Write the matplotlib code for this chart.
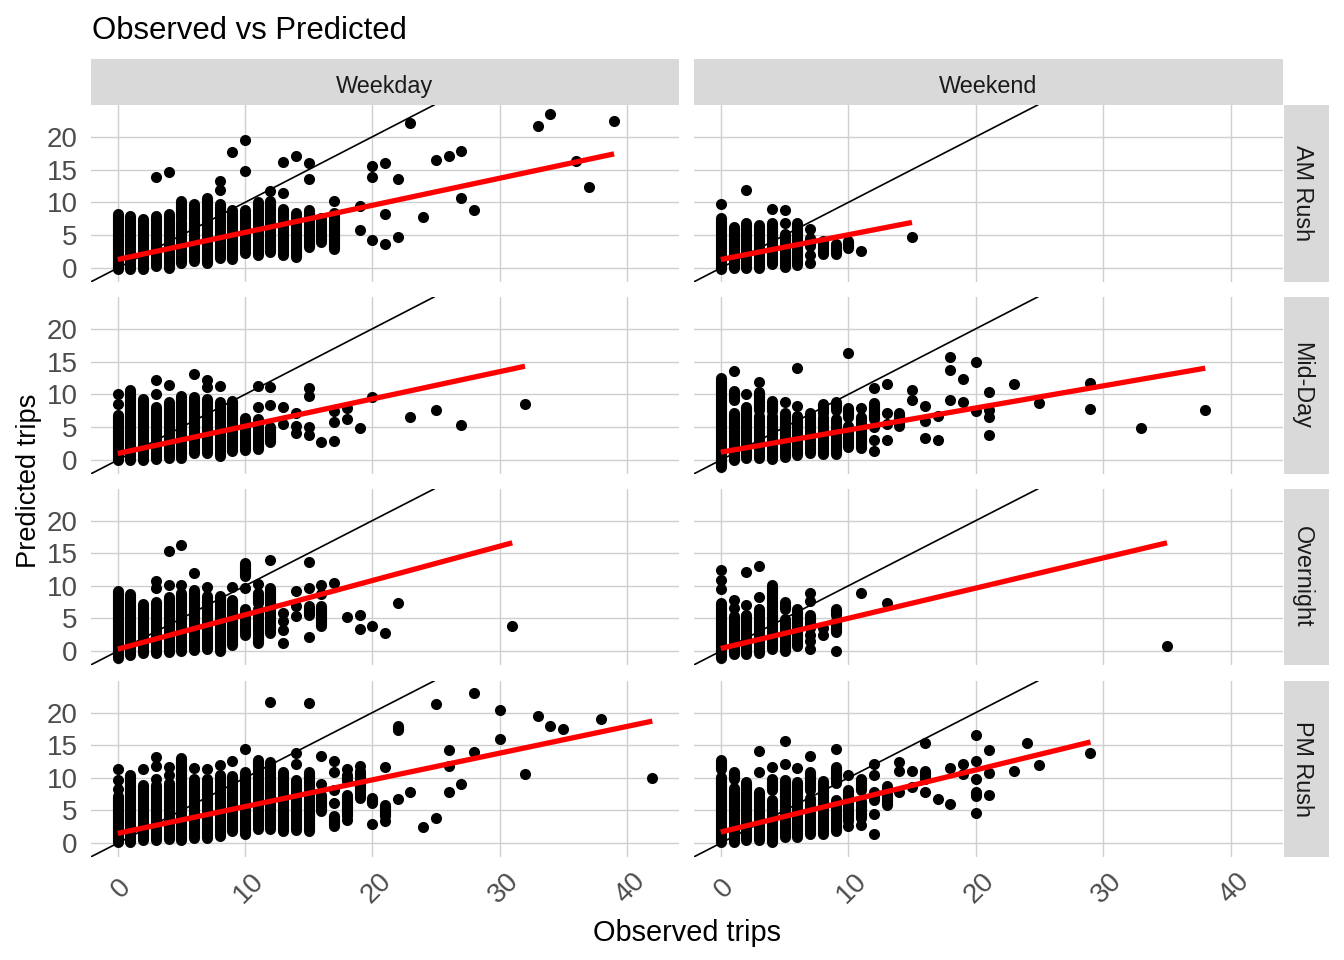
import matplotlib
matplotlib.use('Agg')
import matplotlib.pyplot as plt
from matplotlib.transforms import ScaledTranslation

plt.rcParams['font.family'] = ['Liberation Sans', 'DejaVu Sans']

col_labels = ['Weekday', 'Weekend']
row_labels = ['AM Rush', 'Mid-Day', 'Overnight', 'PM Rush']
x_ticks = [0, 10, 20, 30, 40]
y_ticks = [0, 5, 10, 15, 20]

# Weekday / AM Rush
wd_am_seg_x = [0, 1, 2, 3, 4, 5, 5, 6, 7, 8, 9, 10, 11, 12, 13, 13, 14, 15, 16, 17]
wd_am_seg_lo = [-0.1, -0.1, -0.1, 0.3, 0.05, 0.8, 7.5, 1.0, 0.8, 1.5, 1.4, 2.3, 2.0, 2.5, 2.0, 7.0, 1.7, 3.2, 4.0, 2.9]
wd_am_seg_hi = [8.2, 8.0, 7.5, 8.0, 8.2, 7.0, 10.2, 9.7, 10.6, 9.7, 8.8, 8.9, 10.0, 10.2, 6.6, 9.0, 8.4, 8.9, 7.7, 8.4]
wd_am_pt_x = [3, 4, 8, 8, 9, 10, 10, 12, 13, 13, 14, 15, 15, 17, 19, 19, 20, 20, 20, 21, 21, 21, 22, 22, 23, 24, 25, 26, 27, 27, 28, 33, 34, 36, 37, 39]
wd_am_pt_y = [13.8, 14.7, 13.2, 11.9, 17.7, 14.8, 19.5, 11.8, 11.4, 16.1, 17.0, 16.0, 13.5, 10.2, 9.5, 5.8, 15.6, 13.9, 4.2, 16.0, 8.2, 3.7, 13.5, 4.7, 22.1, 7.8, 16.5, 17.0, 17.9, 10.6, 8.9, 21.6, 23.5, 16.3, 12.4, 22.4]
wd_am_fit_x = [0, 39]
wd_am_fit_y = [1.3, 17.4]

# Weekend / AM Rush
we_am_seg_x = [0, 1, 2, 3, 4, 5, 6, 7, 8, 9, 10]
we_am_seg_lo = [-0.1, 0.05, 0.05, 0.05, 0.55, 0.2, 0.4, 3.3, 2.2, 2.1, 3.1]
we_am_seg_hi = [7.6, 6.3, 6.9, 6.6, 6.9, 5.2, 6.9, 4.6, 4.1, 3.6, 4.1]
we_am_pt_x = [0, 2, 4, 5, 5, 7, 7, 7, 11, 15]
we_am_pt_y = [9.8, 11.9, 9.0, 8.9, 6.9, 5.9, 2.0, 0.7, 2.6, 4.7]
we_am_fit_x = [0, 15]
we_am_fit_y = [1.3, 6.95]

# Weekday / Mid-Day
wd_md_seg_x = [0, 1, 2, 3, 4, 5, 6, 7, 8, 9, 10, 11, 12]
wd_md_seg_lo = [0.0, 0.0, 0.0, 0.2, 0.35, 0.35, 1.0, 1.0, 0.6, 1.4, 1.5, 1.7, 2.8]
wd_md_seg_hi = [6.9, 10.7, 9.3, 8.1, 8.9, 9.8, 9.6, 9.3, 8.9, 9.0, 6.4, 6.3, 5.1]
wd_md_pt_x = [0, 0, 3, 3, 4, 6, 7, 7, 8, 11, 11, 12, 12, 13, 13, 14, 14, 14, 15, 15, 15, 15, 16, 17, 17, 17, 18, 18, 19, 20, 23, 25, 27, 32]
wd_md_pt_y = [10.0, 8.5, 12.2, 10.0, 11.4, 13.1, 12.2, 11.1, 11.3, 11.3, 8.1, 11.1, 8.4, 8.1, 5.5, 7.1, 5.2, 4.1, 11.0, 9.8, 5.0, 3.8, 2.8, 7.4, 5.8, 2.9, 8.0, 6.3, 4.9, 9.6, 6.5, 7.7, 5.4, 8.6]
wd_md_fit_x = [0, 32]
wd_md_fit_y = [1.0, 14.3]

# Weekend / Mid-Day
we_md_seg_x = [0, 1, 1, 2, 3, 3, 4, 4, 5, 6, 7, 8, 8, 9, 9, 10, 10, 11, 12, 14]
we_md_seg_lo = [-1.0, 0.0, 9.2, 0.25, 0.25, 7.7, 0.1, 7.5, 0.5, 0.7, 1.0, 0.9, 7.1, 0.9, 7.7, 2.0, 6.6, 1.9, 6.2, 5.2]
we_md_seg_hi = [12.5, 7.2, 10.5, 8.1, 6.7, 10.3, 6.7, 9.0, 7.1, 6.7, 7.1, 6.6, 8.5, 6.3, 8.8, 5.2, 8.0, 6.5, 8.7, 7.2]
we_md_pt_x = [1, 2, 3, 5, 6, 6, 10, 11, 12, 12, 12, 12, 13, 13, 13, 13, 15, 15, 16, 16, 16, 17, 17, 18, 18, 18, 19, 19, 20, 20, 21, 21, 21, 21, 23, 25, 29, 29, 33, 38]
we_md_pt_y = [13.5, 10.1, 11.9, 8.8, 14.1, 8.2, 16.3, 8.0, 11.0, 5.0, 3.1, 1.4, 11.6, 7.1, 5.5, 3.1, 10.6, 9.2, 8.2, 6.0, 3.4, 6.7, 3.1, 15.7, 13.7, 9.1, 12.4, 8.8, 15.0, 7.5, 10.4, 7.7, 6.5, 3.8, 11.6, 8.7, 11.8, 7.8, 4.9, 7.7]
we_md_fit_x = [0, 38]
we_md_fit_y = [1.2, 14.0]

# Weekday / Overnight
wd_on_seg_x = [0, 1, 2, 3, 4, 5, 6, 7, 8, 9, 10, 10, 11, 11, 12, 12, 15, 16]
wd_on_seg_lo = [-1.0, -0.55, -0.25, -0.25, -0.15, 0.05, 0.2, 0.35, 0.05, 1.0, 2.5, 11.5, 1.3, 7.3, 5.6, 2.7, 5.6, 3.9]
wd_on_seg_hi = [9.2, 8.8, 7.2, 7.5, 8.3, 8.9, 9.4, 8.4, 8.4, 7.9, 6.5, 13.5, 6.5, 8.9, 9.6, 5.4, 6.9, 6.9]
wd_on_pt_x = [3, 3, 4, 4, 5, 5, 6, 7, 9, 10, 11, 12, 13, 13, 13, 13, 14, 14, 14, 15, 15, 15, 16, 16, 17, 18, 19, 19, 20, 21, 22, 31]
wd_on_pt_y = [10.7, 9.6, 15.3, 10.1, 16.3, 10.2, 12.0, 9.9, 9.8, 9.6, 10.3, 13.9, 5.9, 4.6, 3.3, 1.3, 9.2, 6.9, 5.4, 13.6, 9.7, 2.1, 10.2, 8.8, 10.5, 5.2, 5.5, 3.4, 3.9, 2.8, 7.4, 3.9]
wd_on_fit_x = [0, 31]
wd_on_fit_y = [0.3, 16.6]

# Weekend / Overnight
we_on_seg_x = [0, 1, 2, 3, 4, 5, 5, 6, 7, 9, 9]
we_on_seg_lo = [-1.0, -0.45, -0.4, -0.25, 0.25, 0.05, 6.4, 0.8, 3.5, 5.6, 3.0]
we_on_seg_hi = [7.3, 5.4, 5.6, 6.4, 10.2, 4.9, 7.6, 6.4, 5.6, 6.4, 4.6]
we_on_pt_x = [0, 0, 0, 1, 1, 2, 2, 3, 3, 7, 7, 7, 7, 7, 8, 8, 9, 11, 13, 35]
we_on_pt_y = [12.5, 10.9, 9.5, 7.9, 6.6, 12.1, 7.1, 13.0, 8.3, 8.9, 7.7, 2.5, 1.5, 0.3, 3.6, 2.5, 0.05, 8.9, 7.4, 0.85]
we_on_fit_x = [0, 35]
we_on_fit_y = [0.4, 16.6]

# Weekday / PM Rush
wd_pm_seg_x = [0, 1, 2, 3, 4, 5, 6, 7, 8, 9, 10, 11, 12, 13, 14, 15, 16, 17, 18, 18, 19, 20, 21, 22]
wd_pm_seg_lo = [0.2, 0.15, 0.4, 0.4, 0.65, 0.45, 0.8, 0.8, 1.05, 1.8, 1.4, 2.1, 2.2, 1.9, 2.0, 1.9, 4.9, 2.6, 4.1, 9.5, 6.9, 6.1, 4.1, 17.3]
wd_pm_seg_hi = [7.2, 10.5, 8.9, 8.9, 9.2, 13.0, 9.9, 9.9, 10.4, 10.3, 10.9, 12.7, 12.4, 10.9, 9.7, 10.9, 7.4, 4.1, 7.4, 10.5, 11.0, 6.9, 5.9, 18.0]
wd_pm_pt_x = [0, 0, 0, 2, 3, 3, 3, 4, 4, 6, 7, 8, 9, 10, 12, 14, 14, 15, 16, 16, 17, 17, 17, 17, 18, 18, 19, 20, 21, 21, 22, 23, 24, 25, 25, 26, 26, 26, 27, 28, 28, 30, 30, 32, 33, 34, 35, 38, 42]
wd_pm_pt_y = [11.3, 9.6, 8.3, 11.3, 13.2, 11.8, 9.9, 11.7, 10.5, 11.5, 11.3, 11.9, 12.6, 14.4, 21.7, 13.8, 12.1, 21.5, 13.3, 9.1, 12.6, 10.9, 8.2, 6.1, 11.3, 3.6, 11.8, 2.9, 11.6, 3.4, 6.7, 7.9, 2.5, 21.4, 3.8, 14.2, 11.8, 7.8, 9.1, 23.0, 14.0, 20.4, 15.9, 10.6, 19.5, 17.9, 17.5, 19.1, 10.0]
wd_pm_fit_x = [0, 42]
wd_pm_fit_y = [1.5, 18.7]

# Weekend / PM Rush
we_pm_seg_x = [0, 0, 1, 1, 2, 3, 4, 4, 5, 6, 7, 7, 8, 9, 9, 10, 11, 11, 12, 13, 16, 20]
we_pm_seg_lo = [0.2, 11.3, 0.2, 9.8, 0.4, 0.45, 0.2, 8.2, 1.0, 0.9, 1.4, 8.2, 1.4, 1.8, 9.2, 3.4, 3.9, 8.2, 6.6, 5.9, 9.8, 7.2]
we_pm_seg_hi = [10.1, 12.7, 8.4, 10.9, 9.4, 7.9, 6.6, 9.8, 9.7, 9.4, 6.9, 10.9, 9.5, 6.6, 11.7, 8.2, 6.4, 9.9, 7.9, 8.8, 11.0, 7.9]
we_pm_pt_x = [3, 3, 4, 5, 5, 6, 7, 9, 10, 10, 11, 12, 12, 12, 12, 14, 14, 14, 15, 15, 16, 16, 17, 18, 18, 19, 19, 20, 20, 20, 20, 21, 21, 21, 23, 24, 25, 29]
we_pm_pt_y = [14.1, 10.9, 11.7, 15.7, 12.2, 11.5, 13.3, 14.5, 10.4, 2.6, 2.7, 12.2, 10.4, 4.5, 1.4, 12.4, 11.1, 7.9, 11.0, 8.6, 15.3, 7.8, 6.7, 11.5, 6.0, 12.2, 10.6, 16.6, 12.6, 9.8, 4.6, 14.3, 10.8, 7.4, 11.0, 15.3, 11.9, 13.8]
we_pm_fit_x = [0, 29]
we_pm_fit_y = [1.7, 15.5]

panels = [
    [(wd_am_seg_x, wd_am_seg_lo, wd_am_seg_hi, wd_am_pt_x, wd_am_pt_y, wd_am_fit_x, wd_am_fit_y),
     (we_am_seg_x, we_am_seg_lo, we_am_seg_hi, we_am_pt_x, we_am_pt_y, we_am_fit_x, we_am_fit_y)],
    [(wd_md_seg_x, wd_md_seg_lo, wd_md_seg_hi, wd_md_pt_x, wd_md_pt_y, wd_md_fit_x, wd_md_fit_y),
     (we_md_seg_x, we_md_seg_lo, we_md_seg_hi, we_md_pt_x, we_md_pt_y, we_md_fit_x, we_md_fit_y)],
    [(wd_on_seg_x, wd_on_seg_lo, wd_on_seg_hi, wd_on_pt_x, wd_on_pt_y, wd_on_fit_x, wd_on_fit_y),
     (we_on_seg_x, we_on_seg_lo, we_on_seg_hi, we_on_pt_x, we_on_pt_y, we_on_fit_x, we_on_fit_y)],
    [(wd_pm_seg_x, wd_pm_seg_lo, wd_pm_seg_hi, wd_pm_pt_x, wd_pm_pt_y, wd_pm_fit_x, wd_pm_fit_y),
     (we_pm_seg_x, we_pm_seg_lo, we_pm_seg_hi, we_pm_pt_x, we_pm_pt_y, we_pm_fit_x, we_pm_fit_y)],
]

W, H = 1344, 960
fig = plt.figure(figsize=(W / 100, H / 100), dpi=100, facecolor='white')


def px_axes(left, top, right, bottom):
    return fig.add_axes([left / W, 1 - bottom / H, (right - left) / W, (bottom - top) / H])


col_edges = [(91, 679), (694, 1283)]
row_edges = [(105, 282), (297, 474), (489, 665), (681, 857)]
dot_size = 8.0

for r, (top, bottom) in enumerate(row_edges):
    for c, (left, right) in enumerate(col_edges):
        seg_x, seg_lo, seg_hi, pt_x, pt_y, fit_x, fit_y = panels[r][c]
        ax = px_axes(left, top, right, bottom)
        ax.set_xlim(-2.1, 44.1)
        ax.set_ylim(-2.13, 24.85)
        for side in ax.spines.values():
            side.set_visible(False)
        ax.set_xticks(x_ticks)
        ax.set_yticks(y_ticks)
        ax.grid(True, color='#CFCFCF', linewidth=1.0)
        ax.set_axisbelow(True)
        ax.tick_params(length=0, labelsize=20, labelcolor='#4D4D4D', pad=9.5)
        ax.scatter(pt_x, pt_y, s=dot_size ** 2, color='black', linewidths=0, zorder=3)
        ax.vlines(seg_x, seg_lo, seg_hi, colors='black', linewidth=dot_size, capstyle='round', zorder=3)
        ax.axline((0, 0), slope=1, color='black', linewidth=1.2, zorder=4)
        ax.plot(fit_x, fit_y, color='red', linewidth=3.8, solid_capstyle='butt', zorder=5)

        if r == 3:
            ax.set_xticklabels(x_ticks, rotation=45, ha='center', va='center')
            shift = ScaledTranslation(4 / 100, -18 / 100, fig.dpi_scale_trans)
            for lab in ax.get_xticklabels():
                lab.set_transform(lab.get_transform() + shift)
        else:
            ax.tick_params(labelbottom=False)
        if c == 1:
            ax.tick_params(labelleft=False)

# facet strips
for c, (left, right) in enumerate(col_edges):
    st = px_axes(left, 59, right, 105)
    st.set_facecolor('#D9D9D9')
    st.set_xticks([])
    st.set_yticks([])
    for side in st.spines.values():
        side.set_visible(False)
    st.text(0.5, 0.41, col_labels[c], transform=st.transAxes, ha='center', va='center', fontsize=16.8, color='#1A1A1A')

for r, (top, bottom) in enumerate(row_edges):
    st = px_axes(1284, top, 1329, bottom)
    st.set_facecolor('#D9D9D9')
    st.set_xticks([])
    st.set_yticks([])
    for side in st.spines.values():
        side.set_visible(False)
    st.text(0.4, 0.5, row_labels[r], transform=st.transAxes, ha='center', va='center', rotation=-90, fontsize=16.8, color='#1A1A1A')

fig.text(92 / W, 1 - 31 / H, 'Observed vs Predicted', ha='left', va='center', fontsize=22.4, color='black')
fig.text(687 / W, 1 - 933 / H, 'Observed trips', ha='center', va='center', fontsize=20.8, color='black')
fig.text(29 / W, 1 - 481 / H, 'Predicted trips', ha='center', va='center', rotation=90, fontsize=19.6, color='black')

plt.savefig('out.png', dpi=100)
